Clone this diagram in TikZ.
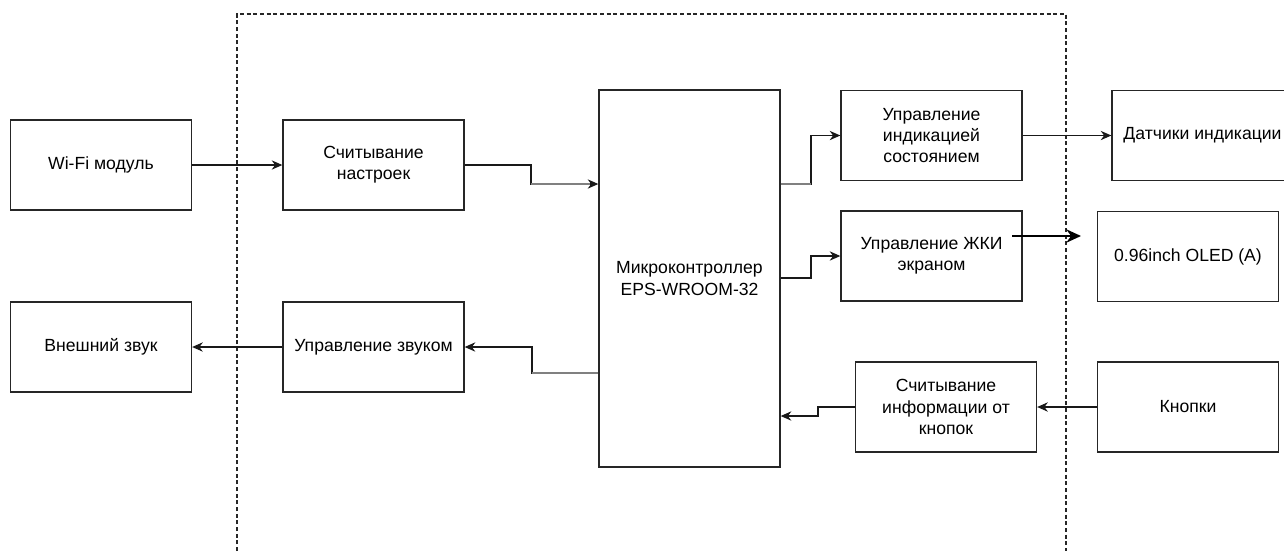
\documentclass[tikz,border=0pt]{standalone}
\usepackage{fontspec}
\setmainfont{Liberation Sans}
\usetikzlibrary{arrows.meta}
\begin{document}
\begin{tikzpicture}[x=0.75pt,y=-0.75pt,
  box/.style={draw=black!85, line width=1pt, minimum width=135.75pt, minimum height=67.5pt, inner sep=0pt, align=center, font=\fontsize{13.2}{16}\selectfont},
  arr/.style={draw=black!90, line width=0.9pt, -{Stealth[length=8pt,width=7pt]}},
  grayseg/.style={draw=black!50, line width=1.5pt},
  frame/.style={draw=black!85, line width=0.9pt, dash pattern=on 3pt off 2pt}]
\useasboundingbox (0,0) rectangle (1284,551);
\clip (0,0) rectangle (1284,551);
% dashed frame
\coordinate (f1) at (237,551);
\coordinate (f2) at (237,14);
\coordinate (f3) at (1066,14);
\coordinate (f4) at (1066,551);
\draw[frame] (f1) -- (f2) -- (f3) -- (f4);
% boxes
\node[box] (wifi) at (101,165) {Wi-Fi модуль};
\node[box] (nastr) at (373.5,165) {Считывание\\настроек};
\node[box] (zvuk) at (101,347) {Внешний звук};
\node[box] (upzv) at (373.5,347) {Управление звуком};
\node[box, minimum height=282.75pt] (mc) at (689.5,278.5) {Микроконтроллер\\EPS-WROOM-32};
\node[box] (ind) at (931.5,135.5) {Управление\\индикацией\\состоянием};
\node[box] (zhki) at (931.5,256) {Управление ЖКИ\\экраном};
\node[box] (dat) at (1202.5,135.5) {Датчики индикации};
\node[box] (oled) at (1188,256.5) {0.96inch OLED (A)};
\node[box] (knin) at (946,407) {Считывание\\информации от\\кнопок};
\node[box] (kn) at (1188,407) {Кнопки};
% connectors
\draw[arr] (wifi.east) -- (nastr.west);
\draw[arr] (nastr.east) -- (531,165) -- (531,184) -- (mc.west |- 0,184);
\draw[grayseg] (531,184) -- (590,184);
\draw[arr] (mc.west |- 0,373) -- (532,373) -- (532,347) -- (upzv.east);
\draw[grayseg] (mc.west |- 0,373) -- (532,373);
\draw[arr] (upzv.west) -- (zvuk.east);
\draw[arr] (mc.east |- 0,184) -- (811,184) -- (811,135.5) -- (ind.west);
\draw[grayseg] (mc.east |- 0,184) -- (811,184);
\draw[arr] (mc.east |- 0,278) -- (811,278) -- (811,256) -- (zhki.west |- 0,256);
\draw[arr] (ind.east) -- (dat.west);
\coordinate (oa) at (1012,236);
\coordinate (ob) at (1081,236);
\draw[line width=1.8pt, -{Stealth[length=11pt,width=10pt]}] (oa) -- (ob);
\draw[arr] (kn.west) -- (knin.east);
\draw[arr] (knin.west) -- (818,407) -- (818,416) -- (mc.east |- 0,416);
\end{tikzpicture}
\end{document}
